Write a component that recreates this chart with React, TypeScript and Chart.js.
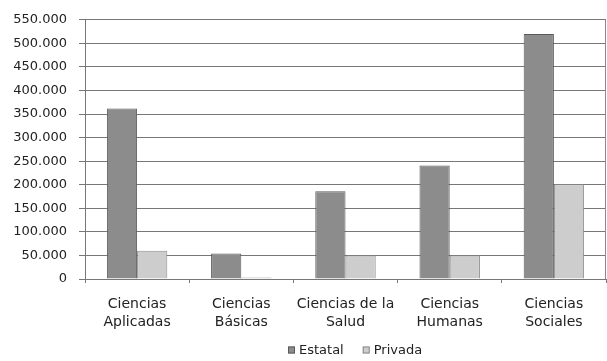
import React, { useEffect, useRef } from "react";
import { Chart, registerables } from "chart.js";

Chart.register(...registerables);

const categories: string[][] = [
  ["Ciencias", "Aplicadas"],
  ["Ciencias", "Básicas"],
  ["Ciencias de la", "Salud"],
  ["Ciencias", "Humanas"],
  ["Ciencias", "Sociales"],
];
const estatal = [362000, 54000, 186000, 241000, 520000];
const privada = [60000, 3000, 50000, 50000, 201000];
const seriesNames = ["Estatal", "Privada"];
const yMax = 550000;
const yStep = 50000;

const FONT = "'DejaVu Sans', 'Liberation Sans', Arial, sans-serif";
const TEXT = "#222";

const borderPlugin = {
  id: "plotBorder",
  afterDraw(chart: any) {
    const { ctx, chartArea } = chart;
    ctx.save();
    ctx.strokeStyle = "#8a8a8a";
    ctx.lineWidth = 1;
    ctx.beginPath();
    ctx.moveTo(Math.round(chartArea.right) - 0.5, chartArea.top);
    ctx.lineTo(Math.round(chartArea.right) - 0.5, chartArea.bottom);
    ctx.stroke();
    ctx.restore();
  },
};

const legendPlugin = {
  id: "bottomLegend",
  afterDraw(chart: any) {
    const { ctx, chartArea } = chart;
    const box = 7;
    const gapText = 11;
    const gapItem = 19;
    ctx.save();
    ctx.font = `13px ${FONT}`;
    ctx.textBaseline = "middle";
    const ds = chart.data.datasets;
    const widths = ds.map((d: any) => gapText + ctx.measureText(d.label).width);
    const total = widths.reduce((a: number, b: number) => a + b, 0) + gapItem * (ds.length - 1);
    let x = Math.round((chartArea.left + chartArea.right) / 2 + 10 - total / 2);
    const cy = 350;
    ds.forEach((d: any, i: number) => {
      ctx.fillStyle = d.backgroundColor;
      ctx.fillRect(x, cy - 3.5, box, box);
      ctx.strokeStyle = d.borderColor;
      ctx.lineWidth = 1;
      ctx.strokeRect(x + 0.5, cy - 3, box - 1, box - 1);
      ctx.fillStyle = TEXT;
      ctx.fillText(d.label, x + gapText, cy + 0.5);
      x += widths[i] + gapItem;
    });
    ctx.restore();
  },
};

function fmt(v: number) {
  return String(v).replace(/\B(?=(\d{3})+(?!\d))/g, ".");
}

export default function App() {
  const ref = useRef<HTMLCanvasElement | null>(null);
  useEffect(() => {
    document.body.style.margin = "0";
    const chart = new Chart(ref.current!, {
      type: "bar",
      data: {
        labels: categories,
        datasets: [
          {
            label: seriesNames[0],
            data: estatal,
            backgroundColor: "#8c8c8c",
            borderColor: "#5a5a5a",
            borderWidth: 1,
            categoryPercentage: 0.58,
            barPercentage: 1,
          },
          {
            label: seriesNames[1],
            data: privada,
            backgroundColor: "#cdcdcd",
            borderColor: "#8a8a8a",
            borderWidth: 1,
            categoryPercentage: 0.58,
            barPercentage: 1,
          },
        ],
      },
      options: {
        responsive: false,
        animation: false,
        layout: { padding: { left: 0, right: 1, top: 14, bottom: 30 } },
        plugins: {
          tooltip: { enabled: false },
          legend: { display: false },
        },
        scales: {
          x: {
            grid: {
              drawOnChartArea: false,
              tickLength: 4,
              color: "#777",
              offset: true,
            },
            border: { color: "#777" },
            ticks: {
              color: TEXT,
              font: { family: FONT, size: 14, lineHeight: 1.29 },
              padding: 12,
              maxRotation: 0,
            },
            afterFit(scale: any) {
              scale.height = 52;
            },
          },
          y: {
            min: 0,
            max: yMax,
            grid: { color: "#777", tickLength: 6 },
            border: { color: "#777" },
            ticks: {
              stepSize: yStep,
              color: TEXT,
              font: { family: FONT, size: 13 },
              padding: 12,
              callback: (v: any) => fmt(Number(v)),
            },
            afterFit(scale: any) {
              scale.width = 85;
            },
          },
        },
      },
      plugins: [borderPlugin, legendPlugin],
    });
    return () => chart.destroy();
  }, []);
  return (
    <div style={{ width: 607, height: 361, background: "#fff" }}>
      <canvas ref={ref} width={607} height={361} />
    </div>
  );
}
